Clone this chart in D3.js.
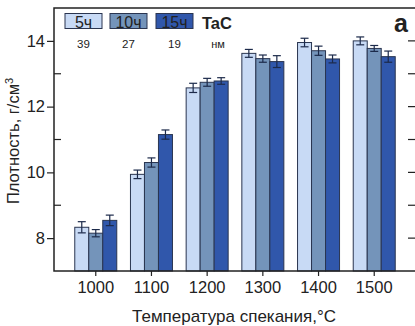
<!DOCTYPE html>
<html>
<head>
<meta charset="utf-8">
<script src="https://cdn.jsdelivr.net/npm/d3@7"></script>
<style>
  body { margin: 0; background: #fff; }
  text { font-family: "Liberation Sans", Arial, sans-serif; fill: #222; }
</style>
</head>
<body>
<div id="chart"></div>
<script>
const temps = ['1000', '1100', '1200', '1300', '1400', '1500'];
const seriesNames = ['5ч', '10ч', '15ч'];
const sizes = ['39', '27', '19'];
const h5vals = [8.33, 9.94, 12.57, 13.62, 13.95, 14.0];
const h10vals = [8.15, 10.3, 12.74, 13.46, 13.70, 13.77];
const h15vals = [8.54, 11.15, 12.78, 13.37, 13.45, 13.52];
const h5err = [0.17, 0.13, 0.14, 0.12, 0.13, 0.12];
const h10err = [0.11, 0.14, 0.12, 0.11, 0.14, 0.09];
const h15err = [0.16, 0.14, 0.10, 0.18, 0.12, 0.17];
const yTicks = [8, 10, 12, 14];
const yMinor = [9, 11, 13];

const colors = ['#c8daf5', '#7494ba', '#3057ab'];
const vals = [h5vals, h10vals, h15vals];
const errs = [h5err, h10err, h15err];

const width = 415, height = 326;
const mLeft = 54, mRight = 416, mTop = 8, mBottom = 271;

const svg = d3.select('#chart').append('svg')
  .attr('width', width)
  .attr('height', height);

const x = d3.scaleBand()
  .domain(temps)
  .range([mLeft, mRight])
  .paddingInner(0)
  .paddingOuter(0.25);

const y = d3.scaleLinear()
  .domain([7, 15])
  .range([mBottom, mTop]);

const barW = 14;
const data = [];
temps.forEach((t, i) => {
  seriesNames.forEach((s, j) => {
    data.push({ t, j, v: vals[j][i], e: errs[j][i] });
  });
});

// bars
svg.append('g').selectAll('rect')
  .data(data)
  .join('rect')
  .attr('x', d => x(d.t) + x.bandwidth() / 2 + (d.j - 1.5) * barW)
  .attr('y', d => y(d.v))
  .attr('width', barW)
  .attr('height', d => y(7) - y(d.v))
  .attr('fill', d => colors[d.j])
  .attr('stroke', '#2a3550')
  .attr('stroke-width', 1);

// error bars
const eb = svg.append('g').attr('stroke', '#1c2a4a').attr('stroke-width', 1.2);
data.forEach(d => {
  const cx = x(d.t) + x.bandwidth() / 2 + (d.j - 1) * barW;
  eb.append('line').attr('x1', cx).attr('x2', cx).attr('y1', y(d.v + d.e)).attr('y2', y(d.v - d.e));
  eb.append('line').attr('x1', cx - 4).attr('x2', cx + 4).attr('y1', y(d.v + d.e)).attr('y2', y(d.v + d.e));
  eb.append('line').attr('x1', cx - 4).attr('x2', cx + 4).attr('y1', y(d.v - d.e)).attr('y2', y(d.v - d.e));
});

// frame
svg.append('rect')
  .attr('x', mLeft).attr('y', mTop)
  .attr('width', mRight - mLeft).attr('height', mBottom - mTop)
  .attr('fill', 'none').attr('stroke', '#222').attr('stroke-width', 1.5);

// left axis
const yAxis = d3.axisLeft(y).tickValues(yTicks).tickSize(7).tickPadding(2);
const gy = svg.append('g').attr('transform', `translate(${mLeft},0)`).call(yAxis);
gy.select('.domain').remove();
gy.selectAll('text').style('font-size', '16.5px');
gy.selectAll('line').attr('stroke', '#222').attr('stroke-width', 1.2);
svg.append('g').selectAll('line')
  .data(yMinor)
  .join('line')
  .attr('x1', mLeft).attr('x2', mLeft + 7)
  .attr('y1', d => y(d)).attr('y2', d => y(d))
  .attr('stroke', '#222').attr('stroke-width', 1.2);

// right ticks
svg.append('g').selectAll('line')
  .data(yTicks.concat(yMinor))
  .join('line')
  .attr('x1', mRight - 8).attr('x2', mRight)
  .attr('y1', d => y(d)).attr('y2', d => y(d))
  .attr('stroke', '#222').attr('stroke-width', 1.2);

// bottom axis
const xAxis = d3.axisBottom(x).tickSize(5).tickPadding(5);
const gx = svg.append('g').attr('transform', `translate(0,${mBottom})`).call(xAxis);
gx.select('.domain').remove();
gx.selectAll('text').style('font-size', '16.5px');
gx.selectAll('line').attr('stroke', '#222').attr('stroke-width', 1.2);

// axis titles
svg.append('text')
  .attr('x', 234)
  .attr('y', 322)
  .attr('text-anchor', 'middle')
  .style('font-size', '17px')
  .text('Температура спекания,°C');

const yl = svg.append('text')
  .attr('transform', `translate(19,141) rotate(-90)`)
  .attr('text-anchor', 'middle')
  .style('font-size', '16.5px');
yl.append('tspan').text('Плотность, г/см');
yl.append('tspan').attr('dy', -6).style('font-size', '11px').text('3');

// legend
const legX = [65, 110, 156];
const lg = svg.append('g');
seriesNames.forEach((s, j) => {
  lg.append('rect')
    .attr('x', legX[j]).attr('y', 13.5)
    .attr('width', 37).attr('height', 15)
    .attr('fill', colors[j])
    .attr('stroke', '#2a3550').attr('stroke-width', 1);
  lg.append('text')
    .attr('x', legX[j] + 18.5).attr('y', 27.5)
    .attr('text-anchor', 'middle')
    .style('font-size', '16px')
    .text(s);
  lg.append('text')
    .attr('x', legX[j] + 18.5).attr('y', 48)
    .attr('text-anchor', 'middle')
    .style('font-size', '11.5px')
    .text(sizes[j]);
});
lg.append('text')
  .attr('x', 202).attr('y', 29)
  .style('font-size', '16.5px').style('font-weight', 'bold')
  .text('TaC');
lg.append('text')
  .attr('x', 218).attr('y', 48)
  .attr('text-anchor', 'middle')
  .style('font-size', '11px')
  .text('нм');

svg.append('text')
  .attr('x', 394).attr('y', 32)
  .style('font-size', '25px').style('font-weight', 'bold')
  .text('a');
</script>
</body>
</html>
